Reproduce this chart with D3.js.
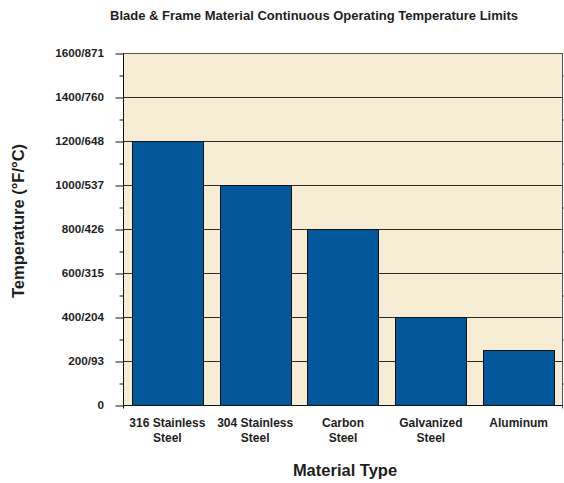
<!DOCTYPE html>
<html>
<head>
<meta charset="utf-8">
<script src="https://cdn.jsdelivr.net/npm/d3@7"></script>
<style>
  html, body { margin: 0; padding: 0; background: #ffffff; }
  svg { display: block; font-family: "Liberation Sans", Arial, Helvetica, sans-serif; }
  text { fill: #1e1e1e; }
</style>
</head>
<body>
<svg id="chart" width="564" height="483"></svg>
<script>
// Continuous operating temperature limits by material (°F)
const categories = ["316 Stainless Steel", "304 Stainless Steel", "Carbon Steel", "Galvanized Steel", "Aluminum"];
const labelLines = [["316 Stainless", "Steel"], ["304 Stainless", "Steel"], ["Carbon", "Steel"], ["Galvanized", "Steel"], ["Aluminum"]];
const tempF = [1200, 1000, 800, 400, 250];

// Axis ticks: °F value with its °C equivalent
const yTicks = [0, 200, 400, 600, 800, 1000, 1200, 1400, 1600];
const yTickLabels = ["0", "200/93", "400/204", "600/315", "800/426", "1000/537", "1200/648", "1400/760", "1600/871"];
const yMinorTicks = [100, 300, 500, 700, 900, 1100, 1300, 1500];

const titleText = "Blade & Frame Material Continuous Operating Temperature Limits";
const xTitle = "Material Type";
const yTitle = "Temperature (°F/°C)";

const svg = d3.select("#chart");
const plot = { left: 123, right: 563, top: 53, bottom: 405 };

const x = d3.scaleBand()
  .domain(categories)
  .range([plot.left, plot.right])
  .paddingInner(0.19)
  .paddingOuter(0.1);

const y = d3.scaleLinear()
  .domain([0, 1600])
  .range([plot.bottom, plot.top]);

// Plot area background
svg.append("rect")
  .attr("x", plot.left)
  .attr("y", plot.top)
  .attr("width", plot.right - plot.left)
  .attr("height", plot.bottom - plot.top)
  .attr("fill", "#f7edd4");

// Horizontal grid lines at major ticks
svg.append("g")
  .selectAll("line")
  .data(yTicks.filter(d => d > 0))
  .join("line")
  .attr("x1", plot.left)
  .attr("x2", plot.right)
  .attr("y1", d => Math.round(y(d)) + 0.5)
  .attr("y2", d => Math.round(y(d)) + 0.5)
  .attr("stroke", d => d === 1600 ? "#555" : "#2a2a2a")
  .attr("stroke-width", 1);

// Bars
svg.append("g")
  .selectAll("rect")
  .data(categories)
  .join("rect")
  .attr("x", d => Math.round(x(d)) + 0.5)
  .attr("y", (d, i) => Math.round(y(tempF[i])) + 0.5)
  .attr("width", Math.round(x.bandwidth()))
  .attr("height", (d, i) => Math.round(y(0)) - Math.round(y(tempF[i])))
  .attr("fill", "#03589c")
  .attr("stroke", "#111")
  .attr("stroke-width", 1);

// Left axis with major and minor ticks
const yAxis = d3.axisLeft(y)
  .tickValues(yTicks)
  .tickSize(8)
  .tickPadding(0)
  .tickFormat("");
const gy = svg.append("g")
  .attr("transform", `translate(${plot.left + 0.5},0.5)`)
  .call(yAxis);
gy.select(".domain").attr("stroke", "#111").attr("d", `M0,${plot.top}V${plot.bottom + 3}`);
gy.selectAll(".tick line").attr("stroke", "#111");

svg.append("g")
  .attr("transform", `translate(${plot.left + 0.5},0.5)`)
  .call(d3.axisLeft(y).tickValues(yMinorTicks).tickSize(4).tickFormat(""))
  .call(g => g.select(".domain").remove())
  .selectAll(".tick line").attr("stroke", "#111");

// Right axis mirror
svg.append("g")
  .attr("transform", `translate(${plot.right - 0.5},0.5)`)
  .call(d3.axisRight(y).tickValues(yMinorTicks).tickSize(4).tickFormat(""))
  .call(g => g.select(".domain").attr("stroke", "#555").attr("d", `M0,${plot.top}V${plot.bottom + 3}`))
  .selectAll(".tick line").attr("stroke", "#555");

// Tick labels
svg.append("g")
  .selectAll("text")
  .data(yTicks)
  .join("text")
  .attr("x", 104)
  .attr("y", d => y(d))
  .attr("dy", "0.36em")
  .attr("text-anchor", "end")
  .attr("font-size", 11.7)
  .attr("font-weight", "bold")
  .text((d, i) => yTickLabels[i]);

// Bottom axis line
svg.append("line")
  .attr("x1", plot.left)
  .attr("x2", plot.right)
  .attr("y1", plot.bottom + 0.5)
  .attr("y2", plot.bottom + 0.5)
  .attr("stroke", "#111");

// Category labels
const catG = svg.append("g")
  .selectAll("text")
  .data(categories)
  .join("text")
  .attr("x", d => x(d) + x.bandwidth() / 2)
  .attr("y", 427)
  .attr("text-anchor", "middle")
  .attr("font-size", 12)
  .attr("font-weight", "bold");
catG.each(function(d, i) {
  d3.select(this).selectAll("tspan")
    .data(labelLines[i])
    .join("tspan")
    .attr("x", x(d) + x.bandwidth() / 2)
    .attr("dy", (t, j) => j === 0 ? 0 : 15)
    .text(t => t);
});

// Titles
svg.append("text")
  .attr("x", 314)
  .attr("y", 19.5)
  .attr("text-anchor", "middle")
  .attr("font-size", 13)
  .attr("font-weight", "bold")
  .text(titleText);

svg.append("text")
  .attr("x", (plot.left + plot.right) / 2 + 2)
  .attr("y", 476)
  .attr("text-anchor", "middle")
  .attr("font-size", 16.5)
  .attr("font-weight", "bold")
  .text(xTitle);

svg.append("text")
  .attr("transform", `translate(24,221) rotate(-90)`)
  .attr("text-anchor", "middle")
  .attr("font-size", 16.5)
  .attr("font-weight", "bold")
  .text(yTitle);
</script>
</body>
</html>
